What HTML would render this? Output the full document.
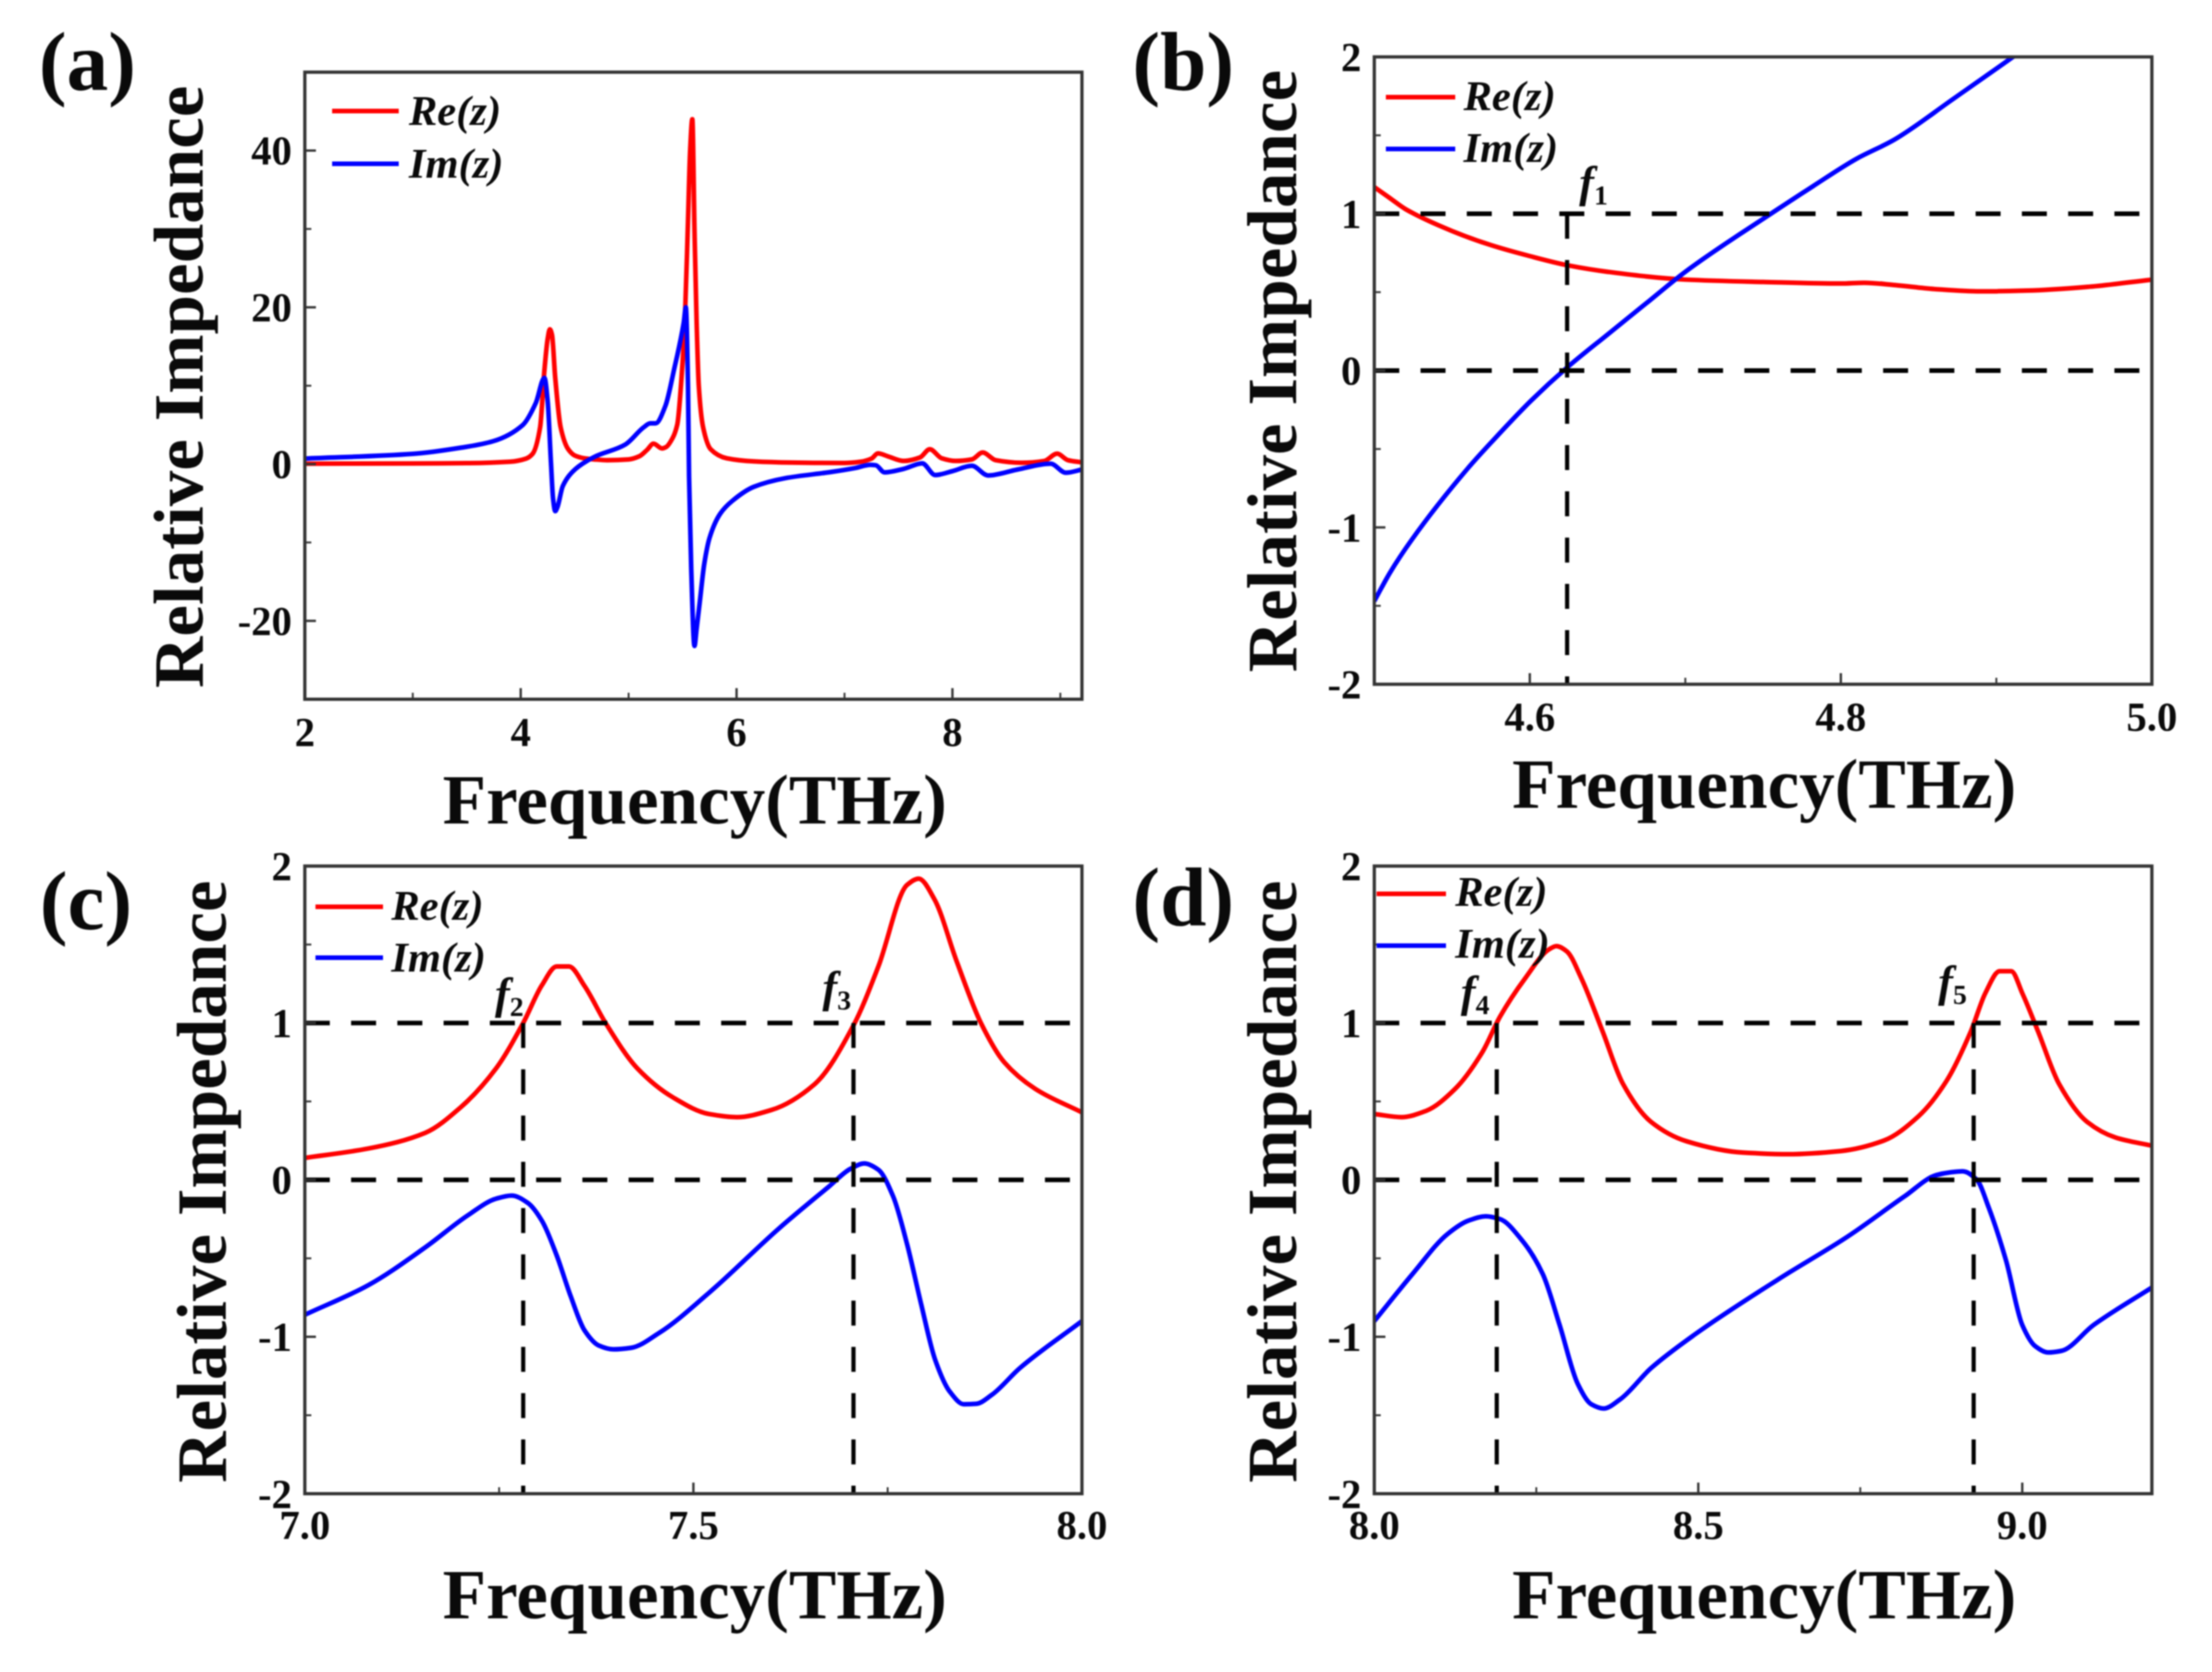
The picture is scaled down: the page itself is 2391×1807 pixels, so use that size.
<!DOCTYPE html>
<html lang="en">
<head>
<meta charset="utf-8">
<title>Relative Impedance Panels</title>
<style>
html,body{margin:0;padding:0;background:#fff;width:2391px;height:1807px;overflow:hidden}
svg{display:block;filter:blur(0.8px)}
text{font-family:"Liberation Serif",serif;font-weight:bold;fill:#0a0a0a}
.panel{font-size:90px}
.title{font-size:76px}
.legend{font-size:46px;font-style:italic}
.f{font-size:48px;font-style:italic}
.f tspan{font-size:30px;font-style:normal}
.tick{font-size:44px}
</style>
</head>
<body>
<svg id="figure" xmlns="http://www.w3.org/2000/svg" width="2391" height="1807" viewBox="0 0 2391 1807">
  <rect width="2391" height="1807" fill="#fff"/>
  <g id="layer-a"></g>
  <g id="layer-b"></g>
  <g id="layer-c"></g>
  <g id="layer-d"></g>

  <text class="panel" x="42" y="97">(a)</text>
  <text class="panel" x="1224" y="97">(b)</text>
  <text class="panel" x="43" y="1004">(c)</text>
  <text class="panel" x="1224" y="1000">(d)</text>

  <text class="title" text-anchor="middle" transform="translate(219,418) rotate(-90)" textLength="651" lengthAdjust="spacingAndGlyphs">Relative Impedance</text>
  <text class="title" text-anchor="middle" transform="translate(1401,401) rotate(-90)" textLength="651" lengthAdjust="spacingAndGlyphs">Relative Impedance</text>
  <text class="title" text-anchor="middle" transform="translate(244,1277) rotate(-90)" textLength="651" lengthAdjust="spacingAndGlyphs">Relative Impedance</text>
  <text class="title" text-anchor="middle" transform="translate(1401,1277) rotate(-90)" textLength="651" lengthAdjust="spacingAndGlyphs">Relative Impedance</text>

  <text class="title" text-anchor="middle" x="751" y="890" textLength="545" lengthAdjust="spacingAndGlyphs">Frequency(THz)</text>
  <text class="title" text-anchor="middle" x="1907" y="873" textLength="545" lengthAdjust="spacingAndGlyphs">Frequency(THz)</text>
  <text class="title" text-anchor="middle" x="751" y="1749" textLength="545" lengthAdjust="spacingAndGlyphs">Frequency(THz)</text>
  <text class="title" text-anchor="middle" x="1907" y="1749" textLength="545" lengthAdjust="spacingAndGlyphs">Frequency(THz)</text>

  <g>
    <line x1="359" x2="431" y1="120" y2="120" stroke="#f00" stroke-width="5"/>
    <text class="legend" x="442" y="135">Re(z)</text>
    <line x1="359" x2="431" y1="177" y2="177" stroke="#00f" stroke-width="5"/>
    <text class="legend" x="442" y="192">Im(z)</text>
  </g>
  <g>
    <line x1="1498" x2="1573" y1="105" y2="105" stroke="#f00" stroke-width="5"/>
    <text class="legend" x="1582" y="119">Re(z)</text>
    <line x1="1498" x2="1573" y1="161" y2="161" stroke="#00f" stroke-width="5"/>
    <text class="legend" x="1582" y="175">Im(z)</text>
  </g>
  <g>
    <line x1="341" x2="414" y1="980" y2="980" stroke="#f00" stroke-width="5"/>
    <text class="legend" x="423" y="994">Re(z)</text>
    <line x1="341" x2="414" y1="1035" y2="1035" stroke="#00f" stroke-width="5"/>
    <text class="legend" x="423" y="1050">Im(z)</text>
  </g>
  <g>
    <line x1="1488" x2="1563" y1="966" y2="966" stroke="#f00" stroke-width="5"/>
    <text class="legend" x="1573" y="979">Re(z)</text>
    <line x1="1488" x2="1563" y1="1022" y2="1022" stroke="#00f" stroke-width="5"/>
    <text class="legend" x="1573" y="1035">Im(z)</text>
  </g>

  <text class="f" x="1707" y="213">f<tspan dy="8">1</tspan></text>
  <text class="f" x="535" y="1090">f<tspan dy="8">2</tspan></text>
  <text class="f" x="889" y="1083">f<tspan dy="8">3</tspan></text>
  <text class="f" x="1579" y="1088">f<tspan dy="8">4</tspan></text>
  <text class="f" x="2095" y="1077">f<tspan dy="8">5</tspan></text>
</svg>

<script>
// ---- Panel (a) data ----
const aReFreq = [2,3,3.5,3.9,4.05,4.11,4.18,4.22,4.25,4.27,4.29,4.32,4.37,4.44,4.5,4.59,4.68,4.8,5.0,5.1,5.17,5.23,5.31,5.35,5.39,5.45,5.5,5.52,5.55,5.57,5.59,5.61,5.63,5.65,5.69,5.76,5.91,6.16,6.5,7,7.15,7.25,7.31,7.4,7.55,7.7,7.79,7.9,8.03,8.18,8.28,8.4,8.64,8.85,8.97,9.07,9.2];
const aReVal  = [0.05,0.08,0.12,0.3,0.7,1.3,4.7,12,16,17.2,16.5,11,4.7,1.9,1.1,0.74,0.6,0.5,0.6,1.0,1.8,2.6,2.0,2.2,2.9,5,13,18,31,40,44,30,18,10,4.7,1.9,0.74,0.35,0.2,0.14,0.3,0.7,1.36,1.0,0.4,0.85,1.9,0.75,0.4,0.6,1.48,0.5,0.17,0.4,1.33,0.5,0.22];
const aImFreq = [2,3,3.45,3.74,4.02,4.14,4.22,4.25,4.28,4.30,4.32,4.34,4.39,4.51,4.68,4.97,5.14,5.2,5.25,5.34,5.42,5.51,5.53,5.55,5.56,5.58,5.61,5.63,5.66,5.70,5.75,5.85,5.96,6.16,6.45,6.88,7.1,7.24,7.29,7.37,7.55,7.72,7.84,8.0,8.18,8.33,8.6,8.91,9.05,9.2];
const aImVal  = [0.7,1.3,2.1,2.9,5,7.8,11,8,0.3,-4.4,-6,-5.5,-2.8,-0.6,0.9,2.5,4.7,5.2,5.2,7.4,12,18,20,10,-1.6,-13.4,-23.2,-21,-17.5,-12.8,-9.4,-6.3,-4.7,-2.9,-1.8,-1,-0.5,-0.1,-0.15,-1.05,-0.6,0.1,-1.4,-0.9,-0.22,-1.45,-0.7,0.05,-1.1,-0.7];

// ---- Panel (b) data ----
const bReFreq = [4.5,4.51,4.52,4.55,4.575,4.6,4.625,4.65,4.7,4.75,4.8,4.815,4.835,4.86,4.89,4.92,4.96,5.0];
const bReVal  = [1.17,1.1,1.03,0.89,0.8,0.73,0.67,0.63,0.58,0.565,0.555,0.56,0.545,0.52,0.505,0.51,0.535,0.58];
const bImFreq = [4.5,4.51,4.524,4.56,4.575,4.601,4.624,4.65,4.675,4.7,4.755,4.782,4.81,4.834,4.872,4.915];
const bImVal  = [-1.47,-1.29,-1.08,-0.625,-0.46,-0.19,0.02,0.23,0.43,0.63,1,1.175,1.35,1.47,1.73,2.03];

// ---- Panel (c) data ----
const cReFreq = [7,7.082,7.155,7.2,7.246,7.281,7.305,7.324,7.34,7.36,7.387,7.428,7.474,7.52,7.556,7.6,7.656,7.706,7.738,7.775,7.79,7.81,7.839,7.87,7.9,7.94,8];
const cReVal  = [0.14,0.2,0.3,0.46,0.71,1,1.24,1.36,1.36,1.235,1,0.71,0.525,0.42,0.4,0.445,0.61,0.985,1.36,1.88,1.92,1.79,1.39,1,0.75,0.58,0.43];
const cImFreq = [7,7.082,7.155,7.21,7.246,7.266,7.287,7.305,7.324,7.342,7.36,7.378,7.397,7.42,7.456,7.52,7.61,7.675,7.702,7.72,7.738,7.757,7.775,7.793,7.811,7.83,7.848,7.864,7.884,7.92,8];
const cImVal  = [-0.86,-0.67,-0.43,-0.225,-0.12,-0.1,-0.147,-0.26,-0.48,-0.74,-0.96,-1.055,-1.08,-1.07,-0.975,-0.72,-0.31,-0.04,0.07,0.105,0.065,-0.105,-0.41,-0.79,-1.145,-1.35,-1.43,-1.427,-1.37,-1.2,-0.9];

// ---- Panel (d) data ----
const dReFreq = [8,8.042,8.08,8.124,8.167,8.194,8.232,8.27,8.281,8.297,8.319,8.352,8.384,8.427,8.482,8.569,8.639,8.72,8.786,8.84,8.883,8.921,8.943,8.965,8.983,9,9.024,9.057,9.1,9.144,9.2];
const dReVal  = [0.42,0.4,0.44,0.577,0.816,1.04,1.28,1.47,1.49,1.457,1.29,0.95,0.61,0.37,0.246,0.174,0.164,0.184,0.25,0.406,0.63,0.95,1.19,1.33,1.33,1.19,0.95,0.61,0.37,0.27,0.218];
const dImFreq = [8,8.059,8.113,8.145,8.172,8.194,8.227,8.26,8.286,8.314,8.335,8.354,8.379,8.427,8.493,8.623,8.731,8.818,8.867,8.889,8.908,8.93,8.948,8.975,9,9.02,9.04,9.06,9.11,9.2];
const dImVal  = [-0.9,-0.6,-0.345,-0.26,-0.232,-0.25,-0.38,-0.6,-0.925,-1.3,-1.43,-1.457,-1.4,-1.2,-0.99,-0.635,-0.36,-0.106,0.03,0.048,0.055,0,-0.174,-0.515,-0.925,-1.06,-1.1,-1.09,-0.925,-0.686];

// ---- Tick values and labels ----
const aXTicks = [2,4,6,8];
const aXTickLabels = ["2","4","6","8"];
const aXMinor = [3,5,7,9];
const aYTicks = [40,20,0,-20];
const aYTickLabels = ["40","20","0","-20"];
const aYMinor = [30,10,-10];
const bXTicks = [4.6,4.8,5.0];
const bXTickLabels = ["4.6","4.8","5.0"];
const bXMinor = [4.7,4.9];
const cXTicks = [7,7.5,8];
const cXTickLabels = ["7.0","7.5","8.0"];
const cXMinor = [7.25,7.75];
const dXTicks = [8,8.5,9];
const dXTickLabels = ["8.0","8.5","9.0"];
const dXMinor = [8.25,8.75];
const zYTicks = [2,1,0,-1,-2];
const zYTickLabels = ["2","1","0","-1","-2"];
const zYMinor = [1.5,0.5,-0.5,-1.5];

// ---- Reference lines ----
const bMarkers = [4.624];
const cMarkers = [7.281,7.706];
const dMarkers = [8.189,8.925];
const refLevels = [1,0];

const NS = 'http://www.w3.org/2000/svg';
function mk(tag, parent, attrs) {
  const el = document.createElementNS(NS, tag);
  for (const k in attrs) el.setAttribute(k, attrs[k]);
  parent.appendChild(el);
  return el;
}
// Monotone cubic path through the mapped data points (no overshoot)
function pathFrom(xs, ys, sx, sy) {
  const px = xs.map(sx), py = ys.map(sy), n = px.length;
  const d = [], m = new Array(n);
  for (let i = 0; i < n - 1; i++) d[i] = (py[i + 1] - py[i]) / (px[i + 1] - px[i]);
  m[0] = d[0];
  m[n - 1] = d[n - 2];
  for (let i = 1; i < n - 1; i++) {
    if (d[i - 1] * d[i] <= 0) { m[i] = 0; continue; }
    const h0 = px[i] - px[i - 1], h1 = px[i + 1] - px[i];
    const w1 = 2 * h1 + h0, w2 = h1 + 2 * h0;
    m[i] = (w1 + w2) / (w1 / d[i - 1] + w2 / d[i]);
  }
  let s = 'M' + px[0].toFixed(2) + ' ' + py[0].toFixed(2);
  for (let i = 0; i < n - 1; i++) {
    const h = (px[i + 1] - px[i]) / 3;
    s += 'C' + (px[i] + h).toFixed(2) + ' ' + (py[i] + m[i] * h).toFixed(2) + ' ' +
         (px[i + 1] - h).toFixed(2) + ' ' + (py[i + 1] - m[i + 1] * h).toFixed(2) + ' ' +
         px[i + 1].toFixed(2) + ' ' + py[i + 1].toFixed(2);
  }
  return s;
}

function drawPanel(p) {
  const g = document.getElementById('layer-' + p.id);
  const sx = v => p.left + (v - p.xMin) / (p.xMax - p.xMin) * (p.right - p.left);
  const sy = v => p.bottom - (v - p.yMin) / (p.yMax - p.yMin) * (p.bottom - p.top);

  const clip = mk('clipPath', g, {id: 'clip-' + p.id});
  mk('rect', clip, {x: p.left, y: p.top, width: p.right - p.left, height: p.bottom - p.top});

  // Curves
  const re = mk('path', g, {d: pathFrom(p.reX, p.reY, sx, sy), fill: 'none', stroke: '#f00', 'stroke-width': 5, 'stroke-linejoin': 'round', 'clip-path': 'url(#clip-' + p.id + ')'});
  
  
  const im = mk('path', g, {d: pathFrom(p.imX, p.imY, sx, sy), fill: 'none', stroke: '#00f', 'stroke-width': 5, 'stroke-linejoin': 'round', 'clip-path': 'url(#clip-' + p.id + ')'});
  
  

  // Dashed reference lines
  if (p.refs) {
    p.refs.forEach(level => {
      const l = mk('line', g, {x1: sx(p.xMin), x2: sx(p.xMax), y1: sy(level), y2: sy(level), stroke: '#000', 'stroke-width': 5, 'stroke-dasharray': '27 23'});
      
      
    });
    p.markers.forEach(m => {
      const l = mk('line', g, {x1: sx(m), x2: sx(m), y1: sy(1), y2: sy(p.yMin), stroke: '#000', 'stroke-width': 4.5, 'stroke-dasharray': '27 23'});
      
      
    });
  }

  // Frame
  const frame = mk('rect', g, {x: p.left, y: p.top, width: p.right - p.left, height: p.bottom - p.top, fill: 'none', stroke: '#333', 'stroke-width': 3.5});
  
  

  // X ticks
  p.xTicks.forEach((v, i) => {
    const t = mk('line', g, {x1: sx(v), x2: sx(v), y1: p.bottom, y2: p.bottom - 12, stroke: '#333', 'stroke-width': 2.5});
    
    
    const lb = mk('text', g, {x: sx(v), y: p.xLabelY, 'text-anchor': 'middle', class: 'tick'});
    lb.textContent = p.xLabels[i];
    
    
  });
  p.xMinor.forEach(v => {
    const t = mk('line', g, {x1: sx(v), x2: sx(v), y1: p.bottom, y2: p.bottom - 7, stroke: '#333', 'stroke-width': 2});
    
    
  });

  // Y ticks
  p.yTicks.forEach((v, i) => {
    const t = mk('line', g, {x1: p.left, x2: p.left + 12, y1: sy(v), y2: sy(v), stroke: '#333', 'stroke-width': 2.5});
    
    
    const lb = mk('text', g, {x: p.left - 14, y: sy(v) + 15, 'text-anchor': 'end', class: 'tick'});
    lb.textContent = p.yLabels[i];
    
    
  });
  p.yMinor.forEach(v => {
    const t = mk('line', g, {x1: p.left, x2: p.left + 7, y1: sy(v), y2: sy(v), stroke: '#333', 'stroke-width': 2});
    
    
  });
}

drawPanel({id:'a', left:329.5, right:1169.5, top:78, bottom:755.7, xMin:2, xMax:9.2, yMin:-30, yMax:50,
  reX:aReFreq, reY:aReVal, imX:aImFreq, imY:aImVal,
  xTicks:aXTicks, xLabels:aXTickLabels, xMinor:aXMinor, xLabelY:806,
  yTicks:aYTicks, yLabels:aYTickLabels, yMinor:aYMinor});
drawPanel({id:'b', left:1485.5, right:2326, top:61.5, bottom:739.5, xMin:4.5, xMax:5, yMin:-2, yMax:2,
  reX:bReFreq, reY:bReVal, imX:bImFreq, imY:bImVal,
  xTicks:bXTicks, xLabels:bXTickLabels, xMinor:bXMinor, xLabelY:789.5,
  yTicks:zYTicks, yLabels:zYTickLabels, yMinor:zYMinor, refs:refLevels, markers:bMarkers});
drawPanel({id:'c', left:329.5, right:1169.5, top:936, bottom:1614.3, xMin:7, xMax:8, yMin:-2, yMax:2,
  reX:cReFreq, reY:cReVal, imX:cImFreq, imY:cImVal,
  xTicks:cXTicks, xLabels:cXTickLabels, xMinor:cXMinor, xLabelY:1663,
  yTicks:zYTicks, yLabels:zYTickLabels, yMinor:zYMinor, refs:refLevels, markers:cMarkers});
drawPanel({id:'d', left:1485.5, right:2326, top:936, bottom:1614.3, xMin:8, xMax:9.2, yMin:-2, yMax:2,
  reX:dReFreq, reY:dReVal, imX:dImFreq, imY:dImVal,
  xTicks:dXTicks, xLabels:dXTickLabels, xMinor:dXMinor, xLabelY:1663,
  yTicks:zYTicks, yLabels:zYTickLabels, yMinor:zYMinor, refs:refLevels, markers:dMarkers});
</script>
</body>
</html>
